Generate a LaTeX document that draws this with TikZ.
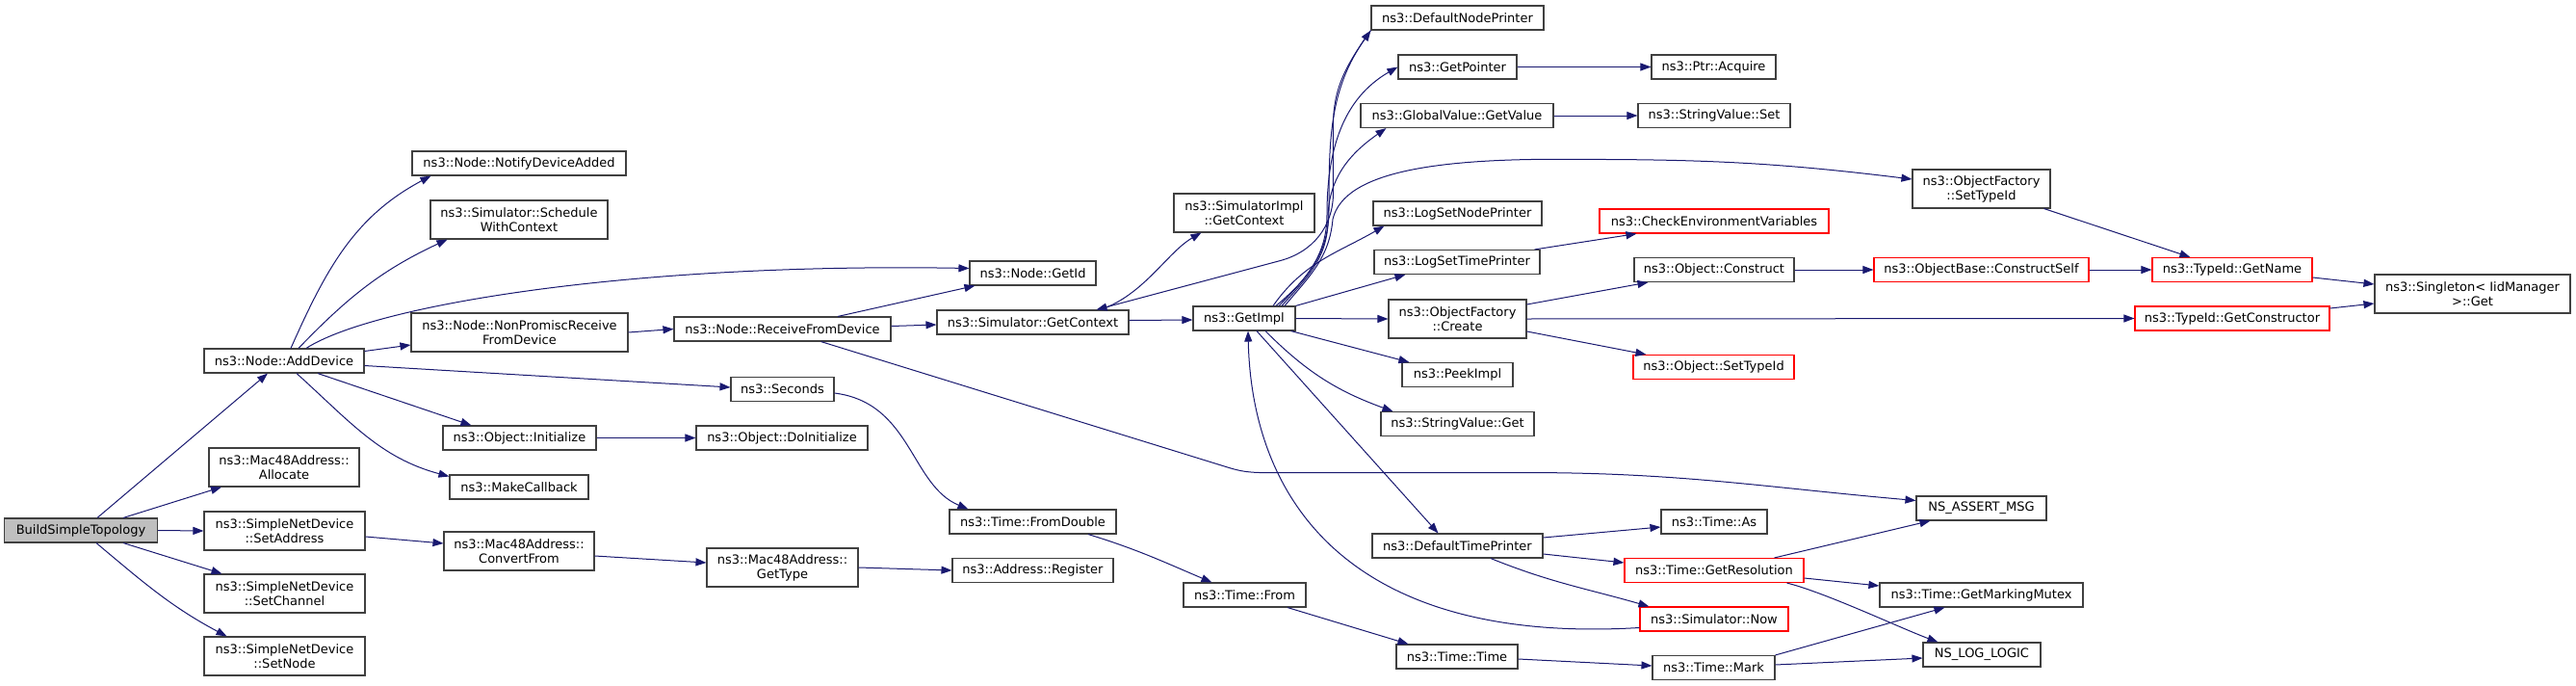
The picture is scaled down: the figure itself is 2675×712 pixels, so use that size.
\documentclass[tikz,border=0pt]{standalone}
\usepackage{fontspec}
\setmainfont{DejaVu Sans}
\usepackage{xcolor}
\usetikzlibrary{arrows.meta}
\definecolor{edgeblue}{RGB}{25,25,112}
\definecolor{boxgray}{RGB}{64,64,64}
\tikzset{
    fn/.style={draw=boxgray, line width=1.1pt, rectangle, minimum height=25pt, inner xsep=3pt, inner ysep=4pt, align=center, fill=white, font=\fontsize{13}{15}\selectfont},
    fntwo/.style={fn, minimum height=40pt},
    fnred/.style={fn, draw=red},
    fnroot/.style={fn, fill=black!25},
    call/.style={draw=edgeblue, line width=1pt, -{Triangle[length=11pt,width=8pt]}},
}

\begin{document}
\begin{tikzpicture}[x=1pt,y=1pt]
    \useasboundingbox (0,0) rectangle (2675,-712);

    % Caller
    \node[fnroot, minimum width=159] (build) at (84,-550.5) {BuildSimpleTopology};

    % Column 1
    \node[fn, minimum width=166] (adddev) at (295,-374.5) {ns3::Node::AddDevice};
    \node[fntwo, minimum width=156] (alloc) at (295,-485) {ns3::Mac48Address::\\Allocate};
    \node[fntwo, minimum width=167] (setaddr) at (295.5,-551) {ns3::SimpleNetDevice\\::SetAddress};
    \node[fntwo, minimum width=167] (setchan) at (295.5,-616) {ns3::SimpleNetDevice\\::SetChannel};
    \node[fntwo, minimum width=167] (setnode) at (295.5,-681) {ns3::SimpleNetDevice\\::SetNode};

    % Column 2
    \node[fn, minimum width=222] (notify) at (539,-169.5) {ns3::Node::NotifyDeviceAdded};
    \node[fntwo, minimum width=184] (sched) at (539,-228) {ns3::Simulator::Schedule\\WithContext};
    \node[fntwo, minimum width=225] (nonprom) at (539.5,-345) {ns3::Node::NonPromiscReceive\\FromDevice};
    \node[fn, minimum width=159] (init) at (539.5,-454.5) {ns3::Object::Initialize};
    \node[fn, minimum width=144] (mkcb) at (539,-505.5) {ns3::MakeCallback};
    \node[fntwo, minimum width=156] (convfrom) at (539,-572) {ns3::Mac48Address::\\ConvertFrom};

    % Column 3
    \node[fn, minimum width=225] (recv) at (812.5,-341.5) {ns3::Node::ReceiveFromDevice};
    \node[fn, minimum width=107] (seconds) at (812.5,-404) {ns3::Seconds};
    \node[fn, minimum width=178] (doinit) at (812,-454.5) {ns3::Object::DoInitialize};
    \node[fntwo, minimum width=157] (gettype) at (812.5,-589) {ns3::Mac48Address::\\GetType};

    % Column 4
    \node[fn, minimum width=131] (getid) at (1072.5,-283.5) {ns3::Node::GetId};
    \node[fn, minimum width=199] (simctx) at (1072.5,-334.5) {ns3::Simulator::GetContext};
    \node[fn, minimum width=173] (fromdbl) at (1072.5,-541.5) {ns3::Time::FromDouble};
    \node[fn, minimum width=167] (addrreg) at (1072.5,-592) {ns3::Address::Register};

    % Column 5
    \node[fntwo, minimum width=146] (implctx) at (1292,-221) {ns3::SimulatorImpl\\::GetContext};
    \node[fn, minimum width=106] (getimpl) at (1292,-330.5) {ns3::GetImpl};
    \node[fn, minimum width=127] (tfrom) at (1292.5,-617.5) {ns3::Time::From};

    % Column 6
    \node[fn, minimum width=179] (dnp) at (1513.5,-18.5) {ns3::DefaultNodePrinter};
    \node[fn, minimum width=123] (getptr) at (1513.5,-69.5) {ns3::GetPointer};
    \node[fn, minimum width=200] (gvget) at (1513,-120) {ns3::GlobalValue::GetValue};
    \node[fn, minimum width=175] (lsnp) at (1513.5,-221.5) {ns3::LogSetNodePrinter};
    \node[fn, minimum width=172] (lstp) at (1513,-272) {ns3::LogSetTimePrinter};
    \node[fntwo, minimum width=143] (ofcreate) at (1513.5,-331) {ns3::ObjectFactory\\::Create};
    \node[fn, minimum width=115] (peek) at (1513.5,-389) {ns3::PeekImpl};
    \node[fn, minimum width=159] (svget) at (1513.5,-440) {ns3::StringValue::Get};
    \node[fn, minimum width=177] (dtp) at (1513.5,-566.5) {ns3::DefaultTimePrinter};
    \node[fn, minimum width=126] (ttime) at (1513,-681.5) {ns3::Time::Time};

    % Column 7
    \node[fn, minimum width=129] (acquire) at (1779.5,-69.5) {ns3::Ptr::Acquire};
    \node[fn, minimum width=158] (svset) at (1780,-120) {ns3::StringValue::Set};
    \node[fnred, minimum width=238] (checkenv) at (1780,-229.5) {ns3::CheckEnvironmentVariables};
    \node[fn, minimum width=166] (construct) at (1780,-280) {ns3::Object::Construct};
    \node[fnred, minimum width=167] (settypeid) at (1779.5,-381) {ns3::Object::SetTypeId};
    \node[fn, minimum width=110] (tas) at (1780,-541.5) {ns3::Time::As};
    \node[fnred, minimum width=186] (getres) at (1780,-592) {ns3::Time::GetResolution};
    \node[fnred, minimum width=154] (now) at (1780,-642.5) {ns3::Simulator::Now};
    \node[fn, minimum width=127] (mark) at (1779.5,-693) {ns3::Time::Mark};

    % Column 8
    \node[fntwo, minimum width=143] (ofsettid) at (2057.5,-196) {ns3::ObjectFactory\\::SetTypeId};
    \node[fnred, minimum width=223] (cself) at (2057.5,-280) {ns3::ObjectBase::ConstructSelf};
    \node[fn, minimum width=135] (assert) at (2057.5,-527.5) {NS\_ASSERT\_MSG};
    \node[fn, minimum width=211] (mutex) at (2057.5,-617.5) {ns3::Time::GetMarkingMutex};
    \node[fn, minimum width=122] (loglogic) at (2058,-679.5) {NS\_LOG\_LOGIC};

    % Column 9 and 10
    \node[fnred, minimum width=166] (getname) at (2318,-280) {ns3::TypeId::GetName};
    \node[fnred, minimum width=202] (getctor) at (2318,-330.5) {ns3::TypeId::GetConstructor};
    \node[fntwo, minimum width=203] (singleton) at (2567.5,-305) {ns3::Singleton\textless{} IidManager\\\textgreater{}::Get};

    % Calls from BuildSimpleTopology
    \draw[call] ([xshift=17pt]build.north) -- ([xshift=-17pt]adddev.south);
    \draw[call] ([xshift=44pt]build.north) -- ([xshift=-65pt]alloc.south);
    \draw[call] (build.east) -- (setaddr.west);
    \draw[call] ([xshift=44pt]build.south) -- ([xshift=-65pt]setchan.north);
    \draw[call] ([xshift=16pt]build.south) to[out=-40,in=152] ([xshift=-60pt]setnode.north);

    % Calls from AddDevice
    \draw[call] ([xshift=7pt]adddev.north) to[out=66,in=-152] ([xshift=20pt]notify.south west);
    \draw[call] ([xshift=15pt]adddev.north) to[out=46,in=-155] ([xshift=18pt]sched.south west);
    \draw[call] ([xshift=23pt]adddev.north) .. controls +(70,45) and +(-350,6) .. ([yshift=5pt]getid.west);
    \draw[call] ([yshift=10pt]adddev.east) -- ([yshift=-13pt]nonprom.west);
    \draw[call] ([yshift=-5pt]adddev.east) -- ([yshift=2pt]seconds.west);
    \draw[call] ([xshift=35pt]adddev.south) -- ([xshift=30pt]init.north west);
    \draw[call] ([xshift=13pt]adddev.south) to[out=-42,in=165] ([yshift=11pt]mkcb.west);

    % Second level
    \draw[call] ([yshift=-6pt]setaddr.east) -- ([yshift=8pt]convfrom.west);
    \draw[call] ([yshift=-5pt]convfrom.east) -- ([yshift=5pt]gettype.west);
    \draw[call] (gettype.east) -- (addrreg.west);
    \draw[call] (nonprom.east) -- (recv.west);
    \draw[call] ([xshift=57.5pt]recv.north) -- ([xshift=6pt]getid.south west);
    \draw[call] ([yshift=3pt]recv.east) -- ([yshift=-2.5pt]simctx.west);
    \draw[call] ([xshift=40pt]recv.south) -- ++(424,-131) to[out=-17,in=180] ++(50,-5) -- ++(260,0) to[out=0,in=175] ([yshift=8pt]assert.west);
    \draw[call] ([yshift=-4pt]seconds.east) .. controls +(80,-10) and +(-60,25) .. ([xshift=20pt]fromdbl.north west);
    \draw[call] (init.east) -- (doinit.west);
    \draw[call] ([xshift=57.5pt]fromdbl.south) to[out=-17,in=157] ([xshift=30pt]tfrom.north west);
    \draw[call] ([xshift=44.5pt]tfrom.south) -- ([xshift=13pt]ttime.north west);

    % Simulator::GetContext
    \draw[call] ([xshift=70pt]simctx.north) .. controls +(45,15) and +(-35,-20) .. ([xshift=29pt]implctx.south west);
    \draw[call] ([yshift=2pt]simctx.east) -- ([yshift=-1.5pt]getimpl.west);
    \draw[call] (dnp.south west) to[out=-125,in=90] ++(-39,-99) -- ++(0,-70) to[out=-90,in=15] ++(-55,-70) -- ([xshift=66pt]simctx.north);

    % Calls from GetImpl
    \draw[call] ([xshift=33pt]getimpl.north) to[out=40,in=-90] ++(55,100) to[out=90,in=-125] (dnp.south west);
    \draw[call] ([xshift=36pt]getimpl.north) to[out=45,in=-90] ++(50,95) to[out=90,in=-150] (getptr.west);
    \draw[call] ([xshift=39pt]getimpl.north) to[out=48,in=-90] ++(48,90) to[out=90,in=-145] ([xshift=27pt]gvget.south west);
    \draw[call] ([xshift=42pt]getimpl.north) to[out=50,in=-95] ++(50,90) .. controls +(12,50) and +(-150,2) .. ++(260,62) to[out=0,in=173] ([yshift=10pt]ofsettid.west);
    \draw[call] ([xshift=30pt]getimpl.north) to[out=55,in=-150] ([xshift=12pt]lsnp.south west);
    \draw[call] (getimpl.north east) -- ([xshift=33pt]lstp.south west);
    \draw[call] (getimpl.east) -- (ofcreate.west);
    \draw[call] ([xshift=-5pt]getimpl.south east) -- ([xshift=8pt]peek.north west);
    \draw[call] ([xshift=22pt]getimpl.south) to[out=-45,in=160] ([xshift=13pt]svget.north west);
    \draw[call] ([xshift=13pt]getimpl.south) -- ([xshift=-20pt]dtp.north);
    \draw[call] ([yshift=-9pt]now.west) .. controls +(-300,-18) and +(4,-177) .. ([xshift=4pt]getimpl.south);

    % Further calls
    \draw[call] (getptr.east) -- (acquire.west);
    \draw[call] (gvget.east) -- (svset.west);
    \draw[call] ([xshift=-6pt]lstp.north east) -- ([xshift=39pt]checkenv.south west);
    \draw[call] ([yshift=15pt]ofcreate.east) -- ([xshift=15pt]construct.south west);
    \draw[call] (ofcreate.east) -- (getctor.west);
    \draw[call] ([yshift=-13pt]ofcreate.east) -- ([xshift=14pt]settypeid.north west);
    \draw[call] (construct.east) -- (cself.west);
    \draw[call] (cself.east) -- (getname.west);
    \draw[call] ([xshift=-7pt]ofsettid.south east) -- ([xshift=40pt]getname.north west);
    \draw[call] ([yshift=-8pt]getname.east) -- ([yshift=10pt]singleton.west);
    \draw[call] ([yshift=10.5pt]getctor.east) -- ([yshift=-10pt]singleton.west);

    % DefaultTimePrinter and Time
    \draw[call] ([yshift=8.5pt]dtp.east) -- ([yshift=-5.5pt]tas.west);
    \draw[call] ([yshift=-8.5pt]dtp.east) -- ([yshift=8pt]getres.west);
    \draw[call] ([xshift=34.5pt]dtp.south) to[out=-22,in=164] ([xshift=10pt]now.north west);
    \draw[call] ([yshift=-2.5pt]ttime.east) -- ([yshift=2pt]mark.west);
    \draw[call] ([xshift=-31pt]getres.north east) -- ([xshift=15pt]assert.south west);
    \draw[call] ([yshift=-8pt]getres.east) -- ([yshift=9.5pt]mutex.west);
    \draw[call] ([xshift=-18pt]getres.south east) .. controls +(40,-10) and +(-40,15) .. ([xshift=16pt]loglogic.north west);
    \draw[call] (mark.north east) -- ([xshift=68pt]mutex.south west);
    \draw[call] ([yshift=3pt]mark.east) -- ([yshift=-3.5pt]loglogic.west);
\end{tikzpicture}
\end{document}
